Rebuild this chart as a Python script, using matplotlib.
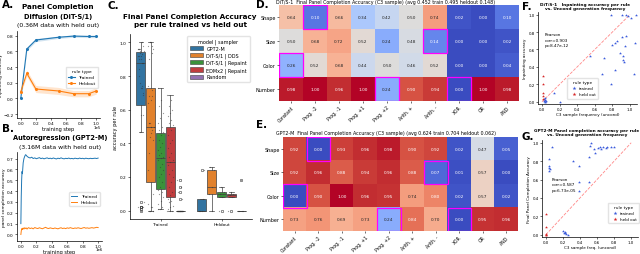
import matplotlib
matplotlib.use("Agg")
import matplotlib.pyplot as plt
import numpy as np
from matplotlib.patches import Rectangle, Patch

# ---------------- data ----------------
# A. diffusion panel completion during training (step in units of 1e5)
a_steps = [0.0, 0.08, 0.2, 0.5, 0.7, 0.9, 1.0]
a_trained = [0.0, 0.63, 0.745, 0.78, 0.795, 0.79, 0.79]
a_trained_err = [0.01, 0.02, 0.02, 0.015, 0.015, 0.015, 0.015]
a_heldout = [0.085, 0.32, 0.12, 0.095, 0.06, 0.06, 0.095]
a_heldout_err = [0.02, 0.04, 0.045, 0.045, 0.04, 0.04, 0.04]

# B. autoregression (step in units of 1e6)
b_steps = [0.0, 0.005, 0.01, 0.015, 0.02, 0.03, 0.04, 0.05, 0.06, 0.07, 0.08, 0.09,
           0.10, 0.12, 0.14, 0.16, 0.18, 0.20, 0.22, 0.24, 0.26, 0.28, 0.30, 0.32,
           0.34, 0.36, 0.38, 0.40, 0.42, 0.44, 0.46, 0.48, 0.50, 0.52, 0.54, 0.56,
           0.58, 0.60, 0.62, 0.64, 0.66, 0.68, 0.70, 0.72, 0.74, 0.76, 0.78, 0.80,
           0.82, 0.84, 0.86, 0.88, 0.90, 0.92, 0.94, 0.96, 0.98, 1.00]
b_trained = [0.10, 0.35, 0.50, 0.58, 0.56, 0.66, 0.70, 0.72, 0.735, 0.73, 0.72, 0.715,
             0.71, 0.705, 0.712, 0.70, 0.706, 0.698, 0.703, 0.708, 0.699, 0.704, 0.697, 0.702,
             0.706, 0.699, 0.703, 0.698, 0.705, 0.700, 0.696, 0.703, 0.699, 0.706, 0.700, 0.697,
             0.702, 0.699, 0.704, 0.698, 0.701, 0.697, 0.703, 0.700, 0.698, 0.704, 0.699, 0.702,
             0.697, 0.703, 0.700, 0.698, 0.702, 0.699, 0.701, 0.703, 0.700, 0.704]
b_heldout = [0.00, 0.03, 0.05, 0.055, 0.045, 0.06, 0.05, 0.062, 0.055, 0.06, 0.05, 0.058,
             0.063, 0.055, 0.06, 0.052, 0.064, 0.058, 0.055, 0.062, 0.057, 0.053, 0.06, 0.066,
             0.058, 0.055, 0.061, 0.057, 0.054, 0.06, 0.056, 0.052, 0.058, 0.062, 0.055, 0.059,
             0.054, 0.061, 0.057, 0.063, 0.058, 0.055, 0.06, 0.057, 0.062, 0.058, 0.055, 0.06,
             0.064, 0.058, 0.061, 0.057, 0.06, 0.063, 0.059, 0.062, 0.066, 0.064]

# D/E heatmaps
rules = ["Constant", "Prog. -2", "Prog. -1", "Prog. +1", "Prog. +2",
         "Arith. +", "Arith. -", "XOR", "OR", "AND"]
attrs = ["Shape", "Size", "Color", "Number"]
heldout_cells = [(0, 1), (1, 6), (2, 0), (3, 4), (3, 7)]

dit_acc = [[0.64, 0.10, 0.66, 0.34, 0.42, 0.50, 0.74, 0.02, 0.00, 0.10],
           [0.50, 0.68, 0.72, 0.52, 0.24, 0.48, 0.14, 0.00, 0.00, 0.02],
           [0.26, 0.52, 0.68, 0.44, 0.50, 0.46, 0.52, 0.00, 0.00, 0.04],
           [0.98, 1.00, 0.96, 1.00, 0.24, 0.90, 0.94, 0.00, 1.00, 0.98]]
gpt_acc = [[0.92, 0.00, 0.93, 0.96, 0.98, 0.90, 0.92, 0.02, 0.47, 0.05],
           [0.92, 0.96, 0.88, 0.94, 0.96, 0.88, 0.07, 0.01, 0.57, 0.00],
           [0.00, 0.90, 1.00, 0.96, 0.95, 0.74, 0.80, 0.02, 0.57, 0.02],
           [0.73, 0.76, 0.69, 0.73, 0.24, 0.84, 0.70, 0.00, 0.95, 0.96]]

# C. per-rule accuracies for the other models (estimated)
dit_repaint_trained = [0.73, 0.66, 0.62, 0.58, 0.55, 0.52, 0.50, 0.48, 0.47, 0.45, 0.42, 0.40,
                       0.38, 0.36, 0.34, 0.33, 0.32, 0.31, 0.30, 0.28, 0.26, 0.24, 0.22, 0.20,
                       0.17, 0.14, 0.12, 0.11, 0.10, 0.08, 0.06, 0.04, 0.02, 0.01, 0.01]
dit_repaint_heldout = [0.00, 0.08, 0.10, 0.11, 0.14]
edm_repaint_trained = [0.69, 0.66, 0.62, 0.60, 0.58, 0.56, 0.54, 0.52, 0.51, 0.48, 0.45, 0.42,
                       0.40, 0.37, 0.34, 0.32, 0.30, 0.29, 0.27, 0.24, 0.22, 0.20, 0.17, 0.14,
                       0.11, 0.09, 0.07, 0.06, 0.05, 0.03, 0.02, 0.01, 0.00, 0.00, 0.00]
edm_repaint_heldout = [0.00, 0.08, 0.09, 0.10, 0.11]
random_trained = [0.18, 0.14, 0.11, 0.07] + [0.0] * 31
random_heldout = [0.0, 0.0, 0.0, 0.0, 0.18]

models = ["GPT2-M", "DiT-S/1 | DDS", "DiT-S/1 | Repaint", "EDMx2 | Repaint", "Random"]

# F. DiT inpainting accuracy vs uncond frequency
f_tr_x = [0.02, 0.03, 0.04, 0.02, 0.05, 0.14, 0.21, 0.55, 0.68, 0.71, 0.78, 0.83, 0.80,
          0.83, 0.85, 0.89, 0.92, 0.92, 0.93, 0.94, 0.91, 0.96, 1.06, 1.05, 0.79, 0.91,
          0.98, 1.01, 1.07, 0.95, 0.03, 0.04]
f_tr_y = [0.01, 0.00, 0.02, 0.03, 0.01, 0.105, 0.00, 0.52, 0.32, 0.50, 0.20, 0.36, 0.65,
          0.67, 0.70, 0.56, 0.52, 0.48, 0.46, 0.64, 0.74, 0.76, 0.67, 0.32, 1.00, 1.00,
          0.98, 0.96, 1.00, 1.00, 0.04, 0.00]
f_ho_x = [0.01, 0.01, 0.01, 0.01, 0.01]
f_ho_y = [0.30, 0.20, 0.105, 0.07, 0.03]

# G. GPT2-M accuracy vs uncond frequency
g_tr_x = [0.07, 0.04, 0.04, 0.04, 0.04, 0.05, 0.32, 0.39, 0.52, 0.50, 0.56, 0.58, 0.61,
          0.63, 0.65, 0.67, 0.70, 0.72, 0.76, 0.80, 0.53, 0.39, 0.39, 0.50, 0.20, 0.22,
          0.23, 0.24, 0.26, 0.21]
g_tr_y = [0.95, 0.82, 0.75, 0.73, 0.69, 0.71, 0.80, 0.75, 0.97, 0.84, 0.93, 0.89, 0.94,
          0.95, 0.93, 0.95, 0.94, 0.95, 0.95, 0.95, 1.00, 0.57, 0.48, 0.57, 0.04, 0.03,
          0.015, 0.01, 0.0, 0.02]
g_ho_x = [0.0, 0.0, 0.0, 0.0, 0.0]
g_ho_y = [0.23, 0.08, 0.01, 0.0, 0.0]

# ---------------- style ----------------
plt.rcParams["font.family"] = "DejaVu Sans"
plt.rcParams["axes.linewidth"] = 0.5
plt.rcParams["xtick.major.width"] = 0.4
plt.rcParams["ytick.major.width"] = 0.4
plt.rcParams["xtick.major.size"] = 1.5
plt.rcParams["ytick.major.size"] = 1.5
plt.rcParams["xtick.major.pad"] = 1
plt.rcParams["ytick.major.pad"] = 1

BLUE, ORANGE = "#1f77b4", "#ff7f0e"
BOX_COLORS = ["#3274a1", "#e1812c", "#3a923a", "#c03d3e", "#9372b2"]
TICK = 3.1

W, H = 640, 255
fig = plt.figure(figsize=(6.4, 2.55), dpi=100)


def px_axes(x0, y0, x1, y1):
    return fig.add_axes([x0 / W, 1 - y1 / H, (x1 - x0) / W, (y1 - y0) / H])


def clean(ax):
    ax.spines["top"].set_visible(False)
    ax.spines["right"].set_visible(False)
    ax.tick_params(labelsize=TICK)


def label(x, y, s):
    fig.text(x / W, 1 - y / H, s, fontsize=7.5, fontweight="bold", va="top", ha="left")


def ftext(x, y, s, **kw):
    fig.text(x / W, 1 - y / H, s, ha="center", va="center", **kw)


def sci_x(ax, scale, txt, y_px):
    # tick labels in units of `scale`, with the multiplier written at the right end
    ax.xaxis.set_major_formatter(plt.FuncFormatter(lambda v, p: f"{v / scale:.1f}"))
    ftext(ax.get_position().x1 * W - 3, y_px, txt, fontsize=2.8)


# ---------------- A ----------------
ax = px_axes(17, 32, 100, 119)
x = np.array(a_steps) * 1e5
for m, e, c, name in [(a_trained, a_trained_err, BLUE, "Trained"),
                      (a_heldout, a_heldout_err, ORANGE, "Heldout")]:
    m, e = np.array(m), np.array(e)
    ax.fill_between(x, m - e, m + e, color=c, alpha=0.2, lw=0)
    ax.plot(x, m, color=c, lw=0.8, marker="o", ms=1.2, label=name)
ax.set_ylim(-0.25, 0.86)
ax.set_yticks([-0.2, 0.0, 0.2, 0.4, 0.6, 0.8])
ax.set_xticks(np.arange(0, 1.01, 0.2) * 1e5)
sci_x(ax, 1e5, "1e5", 128)
ax.set_xlabel("training step", fontsize=3.6, labelpad=0.5)
ax.set_ylabel("inpainting accuracy", fontsize=3.2, labelpad=0.5)
clean(ax)
ax.legend(title="rule type", fontsize=3.2, title_fontsize=3.2, loc="center right",
          bbox_to_anchor=(1.0, 0.47), frameon=True, framealpha=0.8, edgecolor="#dddddd",
          handlelength=1.5, borderpad=0.5)
ftext(58, 7, "Panel Completion", fontsize=5.2, fontweight="bold")
ftext(58, 17, "Diffusion (DiT-S/1)", fontsize=4.8, fontweight="bold")
ftext(58, 26, "(0.36M data with held out)", fontsize=4.4)

# ---------------- B ----------------
ax = px_axes(17, 153, 102, 242)
x = np.array(b_steps) * 1e6
ax.plot(x, b_trained, color=BLUE, lw=0.7, label="Trained")
ax.plot(x, b_heldout, color=ORANGE, lw=0.7, label="Heldout")
ax.set_ylim(-0.06, 0.76)
ax.set_yticks(np.arange(0, 0.71, 0.1))
ax.set_xticks(np.arange(0, 1.01, 0.2) * 1e6)
sci_x(ax, 1e6, "1e6", 250)
ax.set_xlabel("training step", fontsize=3.6, labelpad=0.3)
ax.set_ylabel("panel completion accuracy", fontsize=3.2, labelpad=0.5)
clean(ax)
ax.legend(fontsize=3.2, loc="center right", bbox_to_anchor=(1.0, 0.47), frameon=True,
          framealpha=0.8, edgecolor="#dddddd", handlelength=1.5)
ftext(60, 138, "Autoregression (GPT2-M)", fontsize=4.8, fontweight="bold")
ftext(60, 148, "(3.16M data with held out)", fontsize=4.4)

# ---------------- C ----------------
ax = px_axes(130, 35, 252, 220)
dit = np.array(dit_acc)
gpt = np.array(gpt_acc)
mask = np.zeros(dit.shape, bool)
for r, c in heldout_cells:
    mask[r, c] = True
groups = [
    [list(gpt[~mask]), list(dit[~mask]), dit_repaint_trained, edm_repaint_trained, random_trained],
    [list(gpt[mask]), list(dit[mask]), dit_repaint_heldout, edm_repaint_heldout, random_heldout],
]
bw = 0.16
for gi, group in enumerate(groups):
    for mi, vals in enumerate(group):
        pos = gi + (mi - 2) * bw
        ax.boxplot([vals], positions=[pos], widths=bw * 0.92, patch_artist=True,
                   boxprops=dict(facecolor=BOX_COLORS[mi], edgecolor="#3f3f3f", lw=0.5),
                   medianprops=dict(color="#3f3f3f", lw=0.5),
                   whiskerprops=dict(color="#3f3f3f", lw=0.5),
                   capprops=dict(color="#3f3f3f", lw=0.5),
                   flierprops=dict(marker="o", ms=1.8, mfc="none", mec="#3f3f3f", mew=0.4))
        n = len(vals)
        jit = ((np.arange(n) * 0.618) % 1 - 0.5) * bw * 0.6
        ax.scatter(pos + jit, vals, s=0.8, color="#333333", alpha=0.5, lw=0, zorder=3)
ax.set_xticks([0, 1])
ax.set_xticklabels(["Trained", "Heldout"])
ax.set_xlim(-0.5, 1.5)
ax.set_ylim(-0.05, 1.05)
ax.set_ylabel("accuracy per rule", fontsize=3.6, labelpad=1)
clean(ax)
handles = [Patch(facecolor=c, edgecolor="#3f3f3f", lw=0.4) for c in BOX_COLORS]
ax.legend(handles, models, title="model | sampler", fontsize=3.5, title_fontsize=3.5,
          loc="upper right", bbox_to_anchor=(1.0, 1.0), frameon=True, edgecolor="#dddddd",
          handlelength=2.6, handleheight=0.9, borderpad=0.5, labelspacing=0.35)
ftext(190, 21, "Final Panel Completion Accuracy\nper rule trained vs held out",
      fontsize=5.2, fontweight="bold", linespacing=1.2)


# ---------------- D / E ----------------
def heatmap(box, vals, title, title_y):
    ax = px_axes(*box)
    vals = np.array(vals)
    cmap = plt.get_cmap("coolwarm")
    ax.imshow(vals, cmap=cmap, vmin=0, vmax=1, aspect="auto")
    for r in range(vals.shape[0]):
        for c in range(vals.shape[1]):
            rgb = np.array(cmap(vals[r, c])[:3])
            lin = np.where(rgb <= 0.03928, rgb / 12.92, ((rgb + 0.055) / 1.055) ** 2.4)
            lum = 0.2126 * lin[0] + 0.7152 * lin[1] + 0.0722 * lin[2]
            ax.text(c, r, f"{vals[r, c]:.2f}", ha="center", va="center", fontsize=3.1,
                    color="#262626" if lum > 0.408 else "white")
    for r, c in heldout_cells:
        ax.add_patch(Rectangle((c - 0.5, r - 0.5), 1, 1, fill=False, ec="magenta", lw=0.9))
    ax.set_xticks(range(len(rules)))
    ax.set_xticklabels(rules, rotation=45, ha="right", rotation_mode="anchor", fontsize=3.3)
    ax.set_yticks(range(len(attrs)))
    ax.set_yticklabels(attrs, fontsize=3.5)
    for s in ax.spines.values():
        s.set_visible(False)
    ftext(386, title_y, title, fontsize=3.45)
    return ax


heatmap((279, 6, 519, 102), dit_acc,
        "DiT/S-1  Final Panel Completion Accuracy (C3 sample) (avg 0.452 train 0.495 heldout 0.148)", 2.5)
heatmap((283, 138, 518, 232), gpt_acc,
        "GPT2-M  Final Panel Completion Accuracy (C3 sample) (avg 0.624 train 0.704 heldout 0.062)", 133.5)


# ---------------- F / G ----------------
def scatter(box, trx, tr_y, hox, ho_y, title, title_xy, ylab, xlab, stats, stat_xy, leg_anchor):
    ax = px_axes(*box)
    ax.plot([0, 1], [0, 1], ls="--", color="#ff6b6b", lw=0.6, alpha=0.8)
    ax.scatter(trx, tr_y, marker="*", s=5, color="#3b5bdb", lw=0, label="trained", zorder=3)
    ax.scatter(hox, ho_y, marker="*", s=5, color="#d62728", lw=0, label="held out", zorder=3)
    ax.set_xlim(-0.045, 1.08)
    ax.set_ylim(-0.025, 1.03)
    ax.set_xticks(np.arange(0, 1.01, 0.2))
    ax.set_yticks(np.arange(0, 1.01, 0.2))
    clean(ax)
    ax.tick_params(labelsize=2.9)
    ftext(title_xy[0], title_xy[1], title, fontsize=3.1, fontweight="bold", linespacing=1.3)
    ax.set_ylabel(ylab, fontsize=3.0, labelpad=1)
    ax.set_xlabel(xlab, fontsize=3.0, labelpad=0.5)
    ax.text(stat_xy[0], stat_xy[1], stats, fontsize=3.0, va="top", linespacing=1.5)
    ax.legend(title="rule type", fontsize=3.0, title_fontsize=3.1, loc="center",
              bbox_to_anchor=leg_anchor, frameon=True, edgecolor="#dddddd",
              handletextpad=0.2, borderpad=0.5, markerscale=1.3)
    return ax


scatter((538, 13, 637, 105), f_tr_x, f_tr_y, f_ho_x, f_ho_y,
        "DiT/S-1   Inpainting accuracy per rule\nvs. Uncond generation frequency", (585, 7),
        "Inpainting accuracy", "C3 sample frequency (uncond)",
        "Pearson\ncorr=0.903\np=8.47e-12", (0.03, 0.80), (0.45, 0.17))
scatter((542, 141, 638, 238), g_tr_x, g_tr_y, g_ho_x, g_ho_y,
        "GPT2-M Panel completion accuracy per rule\nvs. Uncond generation frequency", (587, 133),
        "Final Panel Completion Accuracy", "C3 sample freq. (uncond)",
        "Pearson\ncorr=0.587\np=6.73e-05", (0.07, 0.63), (0.85, 0.25))

label(2, 0, "A.")
label(2, 124, "B.")
label(108, 1, "C.")
label(256, 0, "D.")
label(256, 120, "E.")
label(522, 2, "F.")
label(522, 132, "G.")

fig.savefig("out.png", dpi=100)
